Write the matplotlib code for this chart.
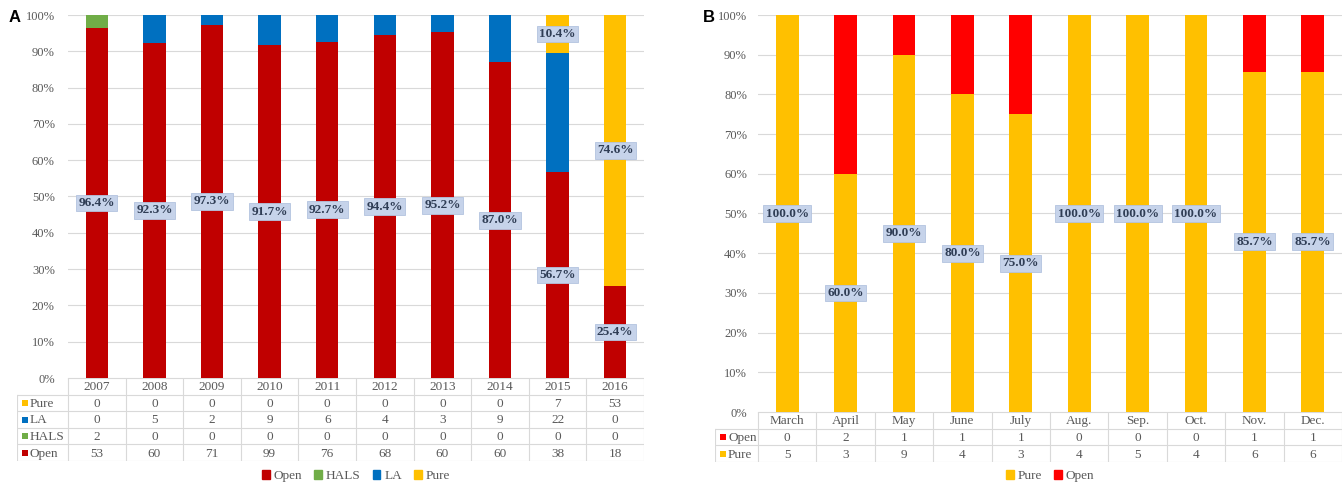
import numpy as np
import matplotlib
matplotlib.use("Agg")
import matplotlib.pyplot as plt
from matplotlib.patches import Patch

plt.rcParams['font.family'] = ['Liberation Serif', 'DejaVu Serif']

# ---- panel A: yearly counts by approach ----
years = ['2007', '2008', '2009', '2010', '2011', '2012', '2013', '2014', '2015', '2016']
open_a = [53, 60, 71, 99, 76, 68, 60, 60, 38, 18]
hals_a = [2, 0, 0, 0, 0, 0, 0, 0, 0, 0]
la_a = [0, 5, 2, 9, 6, 4, 3, 9, 22, 0]
pure_a = [0, 0, 0, 0, 0, 0, 0, 0, 7, 53]

# ---- panel B: monthly counts ----
months = ['March', 'April', 'May', 'June', 'July', 'Aug.', 'Sep.', 'Oct.', 'Nov.', 'Dec.']
open_b = [0, 2, 1, 1, 1, 0, 0, 0, 1, 1]
pure_b = [5, 3, 9, 4, 3, 4, 5, 4, 6, 6]

C_OPEN = '#C00000'
C_HALS = '#70AD47'
C_LA = '#0070C0'
C_PURE = '#FFC000'
C_OPEN_B = '#FF0000'
GRID = '#D9D9D9'
TXT = '#595959'

W, H = 1344, 486
fig = plt.figure(figsize=(W / 100, H / 100), dpi=100)


def px_axes(x0, x1, y0, y1):
    return fig.add_axes([x0 / W, 1 - y1 / H, (x1 - x0) / W, (y1 - y0) / H])


def draw_panel(plot_box, tab_left, row_h, cats, stack, labelled, table_rows, legend_order, legend_x, letter, letter_x, ypad):
    x0, x1, y0, y1 = plot_box
    ax = px_axes(x0, x1, y0, y1)
    n = len(cats)
    x = np.arange(n)
    totals = np.sum([np.array(v) for _, v, _ in stack], axis=0)
    bottom = np.zeros(n)
    segs = {}
    for name, vals, col in stack:
        frac = np.array(vals) / totals * 100
        ax.bar(x, frac, 0.39, bottom=bottom, color=col, zorder=2)
        segs[name] = (bottom.copy(), frac)
        bottom += frac
    for name in labelled:
        b, f = segs[name]
        for i in range(n):
            if f[i] > 0:
                ax.text(x[i], b[i] + f[i] / 2, f"{f[i]:.1f}%", ha='center', va='center',
                        fontsize=9.5, fontweight='bold', color='#2F3D55', zorder=4,
                        bbox=dict(boxstyle='square,pad=0.18', fc='#C6D3EA', ec='#B3C3DF', lw=0.6))
    ax.set_xlim(-0.5, n - 0.5)
    ax.set_ylim(0, 100)
    ax.set_yticks(range(0, 101, 10))
    ax.set_yticklabels([f"{v}%" for v in range(0, 101, 10)])
    ax.tick_params(axis='y', length=0, pad=ypad, labelsize=9, labelcolor=TXT)
    ax.set_xticks([])
    ax.grid(axis='y', color=GRID, lw=0.8, zorder=0)
    for s in ax.spines.values():
        s.set_visible(False)

    # data table under the bars
    cat_px = (x1 - x0) / n
    lab_w = (x0 - tab_left) / cat_px
    nrows = len(table_rows) + 1
    ty1 = y1 + nrows * row_h
    tab = px_axes(tab_left, x1, y1, ty1)
    tab.set_xlim(-0.5 - lab_w, n - 0.5)
    tab.set_ylim(nrows, 0)
    tab.axis('off')
    lc = dict(color=GRID, lw=0.8)
    tab.plot([-0.5, n - 0.5], [0, 0], **lc)
    for r in range(1, nrows + 1):
        tab.plot([-0.5 - lab_w, n - 0.5], [r, r], **lc)
    for c in range(n + 1):
        tab.plot([c - 0.5, c - 0.5], [0, nrows], **lc)
    tab.plot([-0.5 - lab_w] * 2, [1, nrows], **lc)
    for i, c in enumerate(cats):
        tab.text(i, 0.55, c, ha='center', va='center', fontsize=9.5, color=TXT)
    for r, (name, vals, col) in enumerate(table_rows, start=1):
        tab.plot(-0.5 - lab_w + 8 / cat_px, r + 0.5, 's', ms=5, color=col, mew=0)
        tab.text(-0.5 - lab_w + 13 / cat_px, r + 0.55, name, ha='left', va='center', fontsize=9.5, color=TXT)
        for i, v in enumerate(vals):
            tab.text(i, r + 0.55, str(v), ha='center', va='center', fontsize=9.5, color=TXT)

    handles = [Patch(color=col, label=name) for name, col in legend_order]
    fig.legend(handles=handles, loc='center', bbox_to_anchor=(legend_x / W, 1 - 476 / H),
               ncol=len(handles), frameon=False, fontsize=9.5, labelcolor=TXT,
               handlelength=0.6, handleheight=0.6, handletextpad=0.3, columnspacing=0.9)
    fig.text(letter_x / W, 1 - 17 / H, letter, fontsize=12, fontweight='bold',
             family='Liberation Sans', ha='left', va='center')


draw_panel((68, 644, 15, 378), 17, 16.6, years,
           [('Open', open_a, C_OPEN), ('HALS', hals_a, C_HALS), ('LA', la_a, C_LA), ('Pure', pure_a, C_PURE)],
           ['Open', 'Pure'],
           [('Pure', pure_a, C_PURE), ('LA', la_a, C_LA), ('HALS', hals_a, C_HALS), ('Open', open_a, C_OPEN)],
           [('Open', C_OPEN), ('HALS', C_HALS), ('LA', C_LA), ('Pure', C_PURE)],
           356, 'A', 9, 9.5)

draw_panel((758, 1342, 15, 412), 715, 16.7, months,
           [('Pure', pure_b, C_PURE), ('Open', open_b, C_OPEN_B)],
           ['Pure'],
           [('Open', open_b, C_OPEN_B), ('Pure', pure_b, C_PURE)],
           [('Pure', C_PURE), ('Open', C_OPEN_B)],
           1050, 'B', 703, 8)

fig.savefig('out.png', dpi=100)
